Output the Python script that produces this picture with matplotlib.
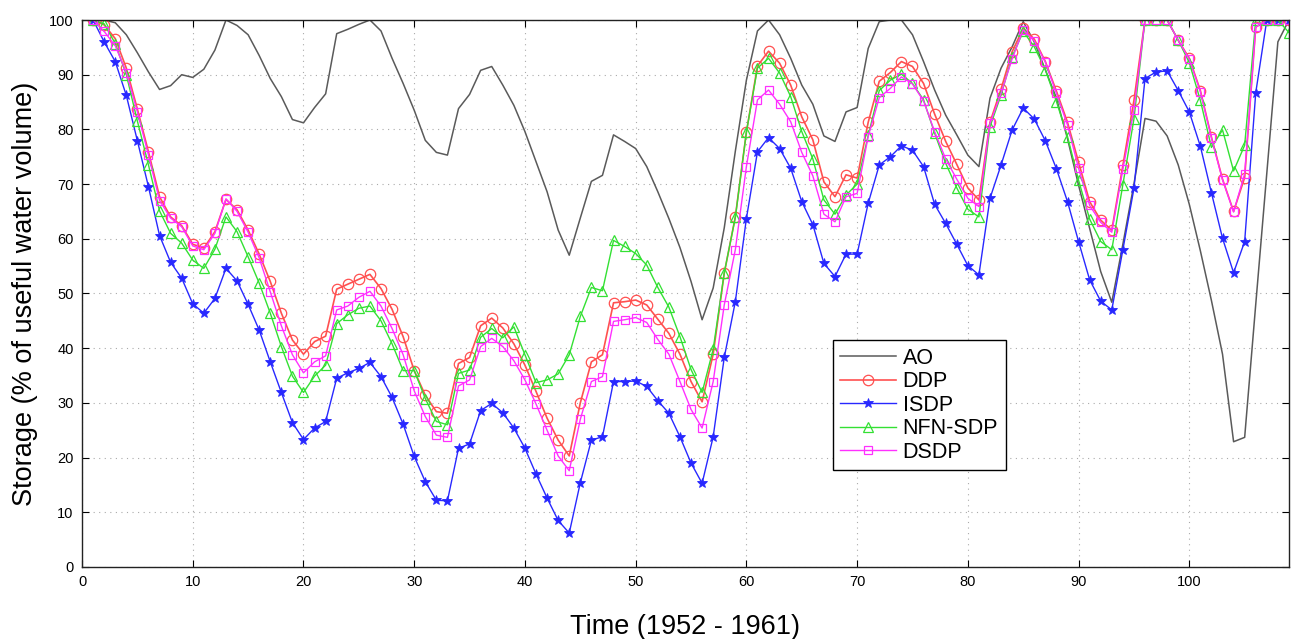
import numpy as np
import matplotlib
matplotlib.use("Agg")
import matplotlib.pyplot as plt

plt.rcParams['font.family'] = ['Liberation Sans', 'DejaVu Sans']

# Tidssteg (månader)
t = np.arange(1, 110)

ao = [100, 100, 99.5, 97.3, 94.0, 90.5, 87.3, 88.0, 90.0, 89.5,
      91.0, 94.5, 100, 99.0, 97.3, 93.5, 89.3, 86.0, 81.8, 81.2,
      84.0, 86.5, 97.5, 98.3, 99.2, 100, 98.0, 93.0, 88.4, 83.5,
      78.0, 75.8, 75.3, 83.8, 86.4, 90.8, 91.5, 88.1, 84.4, 79.6,
      74.1, 68.6, 61.6, 57.0, 63.8, 70.5, 71.6, 79.0, 77.8, 76.5,
      73.2, 68.6, 63.7, 58.4, 52.2, 45.2, 51.0, 62.0, 76.0, 89.0,
      98.0, 100, 97.3, 93.0, 88.1, 84.6, 78.8, 77.8, 83.2, 84.0,
      94.8, 99.7, 100, 100, 97.3, 92.4, 87.2, 82.6, 79.0, 75.3,
      73.2, 85.7, 91.2, 95.1, 99.7, 96.0, 90.9, 85.7, 78.3, 69.8,
      61.9, 54.0, 48.4, 59.0, 70.0, 82.0, 81.5, 78.8, 73.5, 66.3,
      57.8, 48.7, 38.9, 22.9, 23.7, 48.0, 72.0, 96.0, 100]

ddp = [100, 99.1, 96.6, 91.2, 83.7, 75.9, 67.7, 64.0, 62.4, 59.0,
       58.3, 61.3, 67.2, 65.3, 61.6, 57.2, 52.2, 46.4, 41.5, 38.9,
       41.2, 42.2, 50.8, 51.7, 52.6, 53.5, 50.9, 47.1, 42.1, 35.9,
       31.4, 28.4, 28.1, 37.2, 38.3, 44.1, 45.5, 43.7, 40.8, 36.9,
       32.1, 27.2, 23.2, 20.3, 30.0, 37.5, 38.8, 48.3, 48.5, 48.8,
       47.9, 45.3, 42.7, 38.9, 33.9, 30.2, 38.9, 53.7, 64.0, 79.5,
       91.6, 94.3, 92.1, 88.1, 82.3, 78.1, 70.4, 67.7, 71.7, 71.1,
       81.3, 88.8, 90.4, 92.4, 91.5, 88.4, 82.8, 77.8, 73.6, 69.3,
       67.1, 81.3, 87.4, 94.2, 98.5, 96.5, 92.4, 87.0, 81.3, 74.0,
       66.8, 63.4, 61.6, 73.4, 85.3, 100, 100, 100, 96.3, 93.0,
       87.1, 78.6, 70.9, 65.0, 71.2, 98.7, 100, 100, 100]

isdp = [100, 96.0, 92.4, 86.2, 77.9, 69.5, 60.6, 55.7, 52.8, 48.1,
        46.4, 49.1, 54.6, 52.3, 48.0, 43.3, 37.5, 31.9, 26.4, 23.3,
        25.4, 26.6, 34.5, 35.5, 36.3, 37.4, 34.8, 31.0, 26.1, 20.2,
        15.6, 12.2, 12.1, 21.7, 22.5, 28.6, 29.9, 28.2, 25.4, 21.7,
        17.0, 12.6, 8.5, 6.2, 15.4, 23.2, 23.8, 33.9, 33.9, 34.0,
        33.0, 30.4, 28.1, 23.8, 19.0, 15.3, 23.8, 38.3, 48.5, 63.7,
        75.9, 78.5, 76.5, 72.9, 66.8, 62.6, 55.5, 53.1, 57.2, 57.2,
        66.5, 73.5, 75.0, 77.0, 76.2, 73.2, 66.3, 62.8, 59.0, 55.1,
        53.4, 67.4, 73.5, 79.9, 83.9, 81.9, 77.9, 72.8, 66.8, 59.5,
        52.5, 48.6, 47.0, 58.0, 69.2, 89.3, 90.5, 90.7, 87.1, 83.2,
        76.9, 68.4, 60.1, 53.8, 59.5, 86.7, 100, 100, 100]

nfn_sdp = [100, 99.3, 95.7, 90.0, 81.5, 73.5, 65.1, 61.0, 59.2, 56.1,
           54.6, 58.1, 64.0, 61.3, 56.7, 51.9, 46.4, 40.3, 34.9, 31.9,
           34.9, 36.9, 44.5, 46.1, 47.3, 47.7, 45.0, 40.8, 35.9, 35.9,
           30.8, 26.6, 26.0, 35.4, 36.0, 42.0, 43.6, 41.9, 43.9, 38.8,
           33.7, 34.2, 35.3, 38.8, 45.8, 51.1, 50.5, 59.7, 58.6, 57.3,
           55.2, 51.1, 47.5, 42.1, 36.1, 31.9, 39.8, 53.8, 63.9, 79.5,
           91.2, 93.0, 90.3, 86.0, 79.6, 74.6, 67.1, 64.5, 68.0, 70.0,
           78.9, 87.1, 89.0, 90.1, 88.4, 85.4, 79.3, 73.8, 69.3, 65.4,
           64.0, 80.5, 86.3, 93.3, 97.9, 95.1, 90.9, 85.1, 78.7, 70.7,
           63.6, 59.5, 58.0, 69.9, 81.9, 100, 100, 100, 96.3, 92.2,
           85.3, 76.7, 79.9, 72.4, 77.1, 100, 100, 100, 97.7]

dsdp = [100, 97.9, 95.3, 90.4, 83.2, 75.3, 67.0, 63.8, 62.2, 58.7,
        58.0, 61.0, 67.3, 65.0, 61.2, 56.5, 50.3, 44.1, 38.8, 35.5,
        37.5, 38.6, 47.0, 47.7, 49.3, 50.4, 47.7, 43.6, 38.8, 32.2,
        27.5, 24.1, 23.7, 33.1, 34.2, 40.3, 41.8, 40.3, 37.7, 34.2,
        29.8, 25.0, 20.3, 17.6, 27.0, 33.9, 34.8, 44.9, 45.2, 45.6,
        44.7, 41.6, 38.9, 33.9, 28.8, 25.4, 33.9, 47.9, 58.0, 73.2,
        85.4, 87.2, 84.6, 81.4, 75.8, 71.5, 64.5, 63.1, 67.7, 68.3,
        78.7, 85.8, 87.5, 89.6, 88.3, 85.2, 79.6, 74.6, 70.9, 67.4,
        65.9, 81.1, 86.6, 92.9, 98.2, 96.2, 92.3, 86.6, 80.8, 72.9,
        66.1, 63.0, 61.2, 72.7, 83.5, 100, 100, 100, 96.3, 92.8,
        86.9, 78.4, 70.8, 64.9, 71.9, 98.7, 100, 100, 100]

fig = plt.figure(figsize=(12.94, 6.39), dpi=100)
ax = fig.add_axes([0.0634, 0.1127, 0.9327, 0.856])

ax.plot(t, ao, color='#5a5a5a', lw=1.1, label='AO')
ax.plot(t, ddp, color='#ff5050', lw=1.2, marker='o', ms=7.5, mfc='none', mew=0.9, label='DDP')
ax.plot(t, isdp, color='#2828ff', lw=1.0, marker='*', ms=7, mew=0.6, label='ISDP')
ax.plot(t, nfn_sdp, color='#33e033', lw=1.0, marker='^', ms=7.5, mfc='none', mew=0.9, label='NFN-SDP')
ax.plot(t, dsdp, color='#ff30ff', lw=1.0, marker='s', ms=6, mfc='none', mew=0.9, label='DSDP')

ax.set_xlim(0, 109)
ax.set_ylim(0, 100)
ax.set_xticks(np.arange(0, 101, 10))
ax.set_yticks(np.arange(0, 101, 10))
ax.tick_params(direction='in', top=True, right=True, length=5, width=0.8,
               labelsize=10.5, pad=6)
ax.grid(True, linestyle=(0, (1, 4)), color='#aaaaaa', lw=0.8)
for s in ax.spines.values():
    s.set_linewidth(1.0)
    s.set_color('#222222')

ax.set_xlabel('Time (1952 - 1961)', fontsize=19.5, labelpad=18)
ax.set_ylabel('Storage (% of useful water volume)', fontsize=19.5, labelpad=8)

leg = ax.legend(loc='upper left', bbox_to_anchor=(0.622, 0.415), borderaxespad=0,
                fontsize=15.5, handlelength=2.6, handletextpad=0.3,
                labelspacing=0.12, fancybox=False, framealpha=1,
                edgecolor='black', borderpad=0.35)
leg.get_frame().set_linewidth(1.0)

plt.savefig("out.png", dpi=100)
